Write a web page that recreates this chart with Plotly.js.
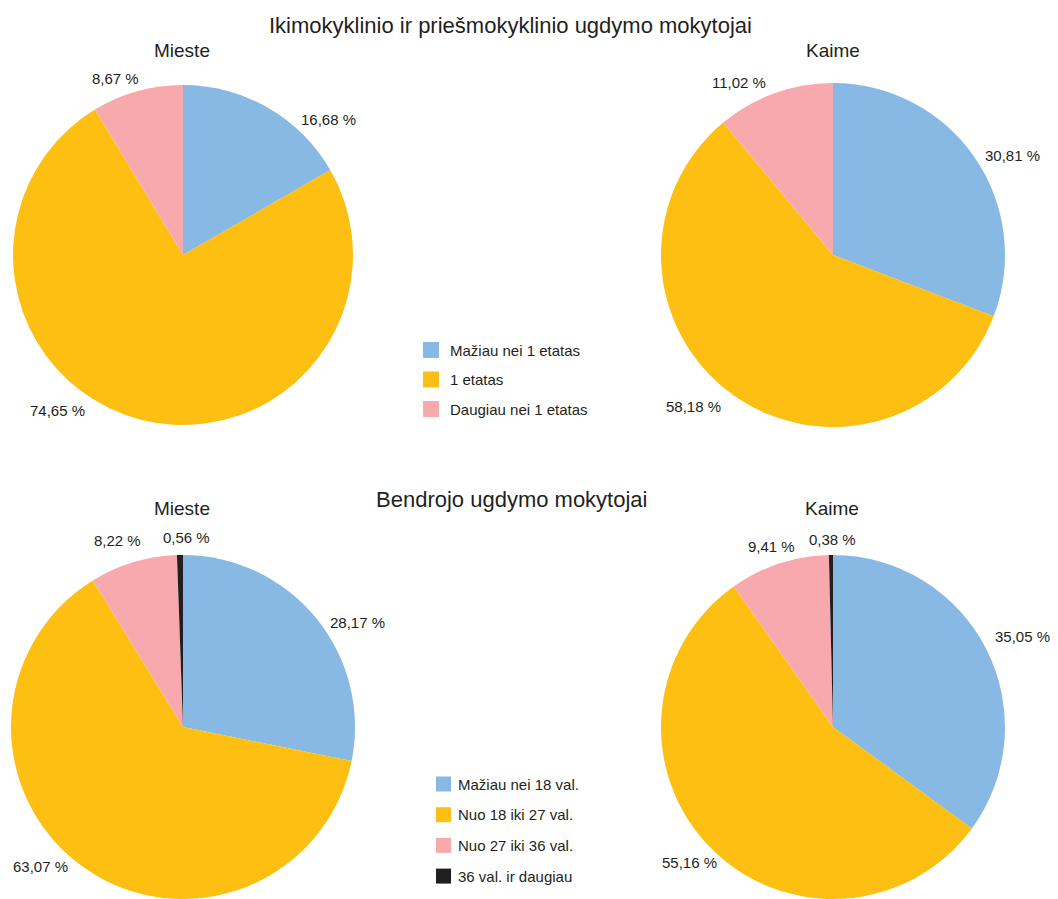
<!DOCTYPE html>
<html>
<head>
<meta charset="utf-8">
<script src="https://cdn.plot.ly/plotly-3.0.1.min.js"></script>
<style>html,body{margin:0;padding:0;background:#fff;}#chart{width:1058px;height:899px;}</style>
</head>
<body>
<div id="chart"></div>
<script>
// ---- data ----
const topTitle = 'Ikimokyklinio ir priešmokyklinio ugdymo mokytojai';
const bottomTitle = 'Bendrojo ugdymo mokytojai';
const pieTitles = ['Mieste', 'Kaime'];
const topCategories = ['Mažiau nei 1 etatas', '1 etatas', 'Daugiau nei 1 etatas'];
const topMieste = [16.68, 74.65, 8.67];
const topKaime = [30.81, 58.18, 11.02];
const bottomCategories = ['Mažiau nei 18 val.', 'Nuo 18 iki 27 val.', 'Nuo 27 iki 36 val.', '36 val. ir daugiau'];
const bottomMieste = [28.17, 63.07, 8.22, 0.56];
const bottomKaime = [35.05, 55.16, 9.41, 0.38];
const colors = ['#88b9e4', '#fdbf12', '#f7a9ad', '#231f20'];

// ---- layout ----
const W = 1058, H = 899;
const FONT = '"Liberation Sans", Arial, sans-serif';
const TXT = '#231f20';
const px = x => x / W;
const py = y => 1 - y / H;

const pies = [
  {values: topMieste, labels: topCategories, cx: 183, cy: 255, r: 170,
   lab: [[328, 120], [57, 410], [115, 78]]},
  {values: topKaime, labels: topCategories, cx: 833, cy: 255, r: 172,
   lab: [[1012, 155], [693, 406], [739, 82]]},
  {values: bottomMieste, labels: bottomCategories, cx: 183, cy: 727, r: 172,
   lab: [[357, 622], [40, 866], [117, 540], [186, 537]]},
  {values: bottomKaime, labels: bottomCategories, cx: 833, cy: 727, r: 172,
   lab: [[1022, 636], [689, 862], [771, 546], [832, 539]]}
];

const fmt = v => v.toFixed(2).replace('.', ',') + ' %';

const traces = pies.map(p => ({
  type: 'pie',
  values: p.values,
  labels: p.labels,
  sort: false,
  direction: 'clockwise',
  rotation: 0,
  textinfo: 'none',
  hoverinfo: 'label+percent',
  showlegend: false,
  marker: {colors: colors.slice(0, p.values.length), line: {width: 0}},
  domain: {
    x: [px(p.cx - p.r), px(p.cx + p.r)],
    y: [Math.max(0, py(p.cy + p.r)), Math.min(1, py(p.cy - p.r))]
  }
}));

const annotations = [];
const ann = (text, x, y, size, xanchor) => annotations.push({
  text: text, x: px(x), y: py(y), xref: 'paper', yref: 'paper',
  xanchor: xanchor || 'center', yanchor: 'middle', showarrow: false,
  font: {family: FONT, size: size, color: TXT}
});

ann(topTitle, 510, 25, 22);
ann(bottomTitle, 511, 499, 22);
ann(pieTitles[0], 182, 50, 19);
ann(pieTitles[1], 833, 50, 19);
ann(pieTitles[0], 182, 508, 19);
ann(pieTitles[1], 832, 508, 19);

pies.forEach(p => p.values.forEach((v, i) => ann(fmt(v), p.lab[i][0], p.lab[i][1], 15)));

// manual legends
const shapes = [];
const legends = [
  {labels: topCategories, x: 423, y0: 350, dy: 29.5, size: 16, gap: 9},
  {labels: bottomCategories, x: 436, y0: 784, dy: 30.7, size: 15, gap: 5}
];
legends.forEach(L => L.labels.forEach((lbl, i) => {
  const y = L.y0 + i * L.dy;
  shapes.push({type: 'rect', xref: 'paper', yref: 'paper',
    x0: px(L.x), x1: px(L.x + L.size), y0: py(y + L.size / 2), y1: py(y - L.size / 2),
    fillcolor: colors[i], line: {width: 0}});
  ann(lbl, L.x + L.size + L.gap, y, 15, 'left');
}));

const layout = {
  width: W, height: H,
  margin: {l: 0, r: 0, t: 0, b: 0},
  paper_bgcolor: '#ffffff',
  showlegend: false,
  annotations: annotations,
  shapes: shapes,
  font: {family: FONT, color: TXT}
};

Plotly.newPlot('chart', traces, layout, {displayModeBar: false, staticPlot: true});
</script>
</body>
</html>
